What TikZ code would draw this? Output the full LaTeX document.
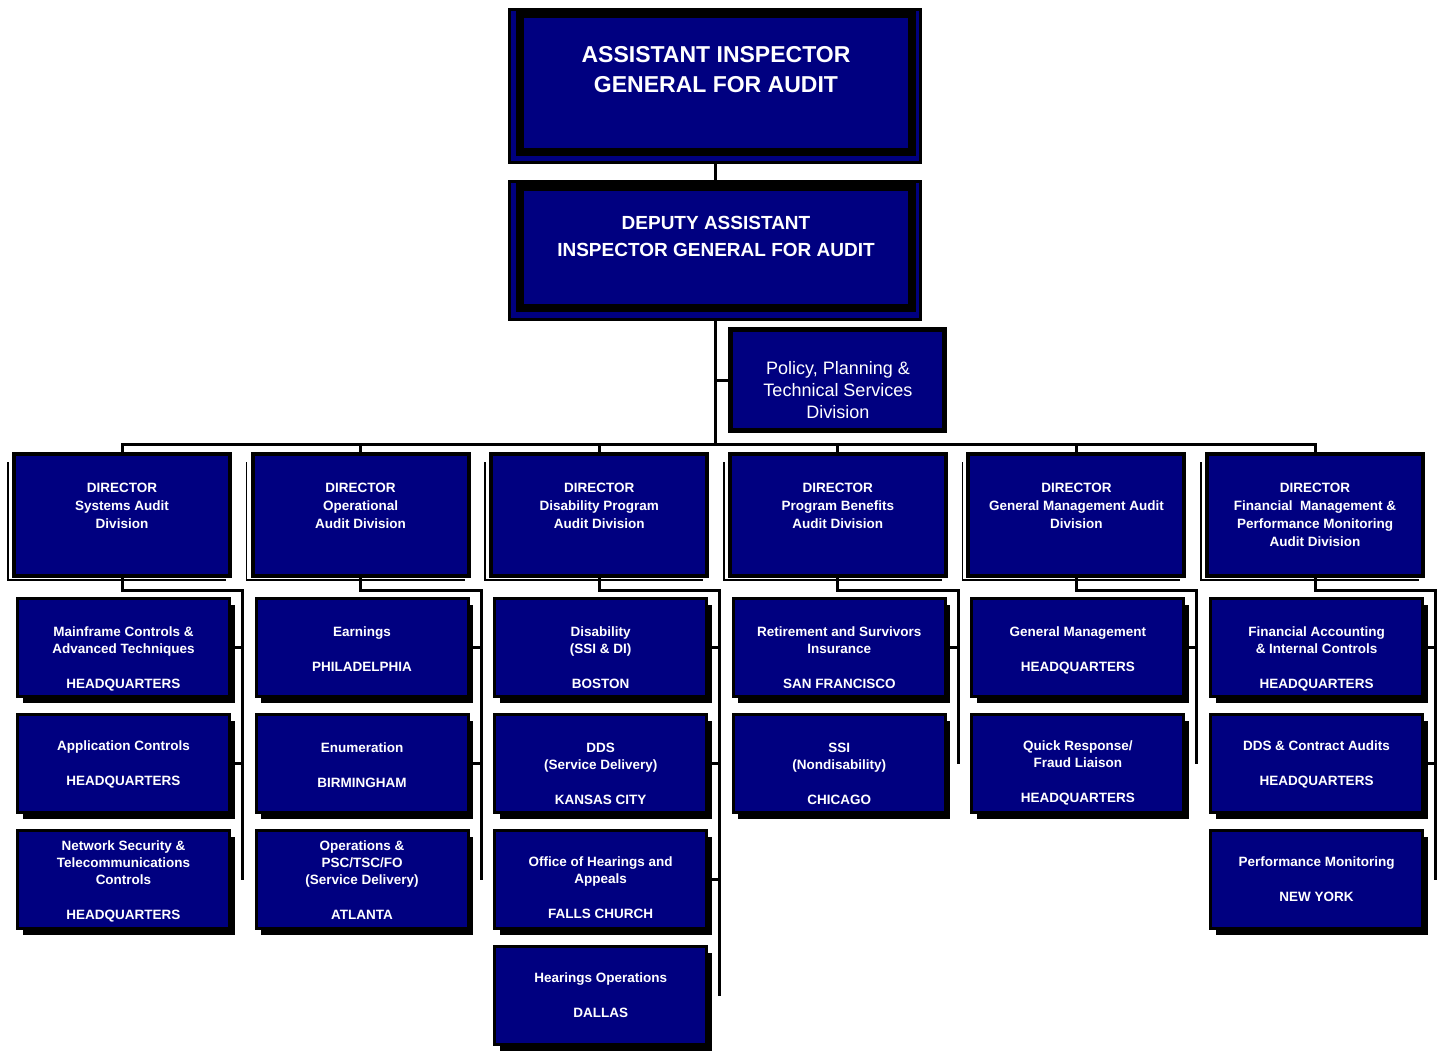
\documentclass[tikz,border=0pt]{standalone}
\usepackage{fontspec}
\setmainfont{Liberation Sans}
\usetikzlibrary{shadows}
\definecolor{navyfill}{RGB}{0,0,128}
\newcommand\DirBox[3]{%
  \draw[line width=1.5pt] ({#2-4},462) -- ({#2-4},580) -- ({#2+214},580);
  \node[dirbox] (#1) at ({#2+110},515) {};
  \node[dirtext] (#1t) at ({#2+110},479.2) {\strut #3};
}
\newcommand\KidBox[5]{%
  \node[childbox] (#1) at ({#2+111.5},{#3+50.5}) {};
  \node[childtext] (#1t) at ({#2+111.5},{#4-7}) {\strut #5};
}
\newcommand\TreeLine[3]{%
  \coordinate (#1v) at ({#2+230.5},590);
  \draw[conn] (#1.south) |- (#1v) -- (#1v |- #3.east);
}
\newcommand\Stub[2]{\draw[conn] (#2.east) -- (#1v |- #2.east);}
\begin{document}
\begin{tikzpicture}[x=1pt,y=-1pt,
  conn/.style={line width=3pt, draw=black},
  dirbox/.style={rectangle, draw=black, fill=navyfill, line width=4pt, minimum width=216pt, minimum height=122pt, inner sep=0pt},
  childbox/.style={rectangle, draw=black, fill=navyfill, line width=3pt, minimum width=212pt, minimum height=98pt, inner sep=0pt, drop shadow={shadow xshift=5pt, shadow yshift=-6pt, fill=black, opacity=1}},
  dirtext/.style={text=white, font=\fontsize{13.5}{18}\selectfont\bfseries, align=center, anchor=north, inner sep=0pt},
  childtext/.style={text=white, font=\fontsize{13.5}{17}\selectfont\bfseries, align=center, anchor=north, inner sep=0pt},
  bigframe/.style={rectangle, draw=black, fill=navyfill, inner sep=0pt},
]
\useasboundingbox (0,0) rectangle (1438,1050);
\fill[white] (0,0) rectangle (1438,1050);

% top boxes
\node[bigframe, line width=3pt, minimum width=411pt, minimum height=153pt] (A) at (715,86) {};
\node[bigframe, line width=8pt, minimum width=392pt, minimum height=138pt] (Ai) at (715.5,83) {};
\node[text=white, font=\fontsize{23}{30}\selectfont\bfseries, align=center, anchor=north, inner sep=0pt] (At) at (716,41.2) {\strut ASSISTANT INSPECTOR\\GENERAL FOR AUDIT};

\node[bigframe, line width=3pt, minimum width=411pt, minimum height=138pt] (B) at (715,250.5) {};
\node[bigframe, line width=8pt, minimum width=392pt, minimum height=121pt] (Bi) at (715.5,247.5) {};
\node[text=white, font=\fontsize{19}{27}\selectfont\bfseries, align=center, anchor=north, inner sep=0pt] (Bt) at (716,209.9) {\strut DEPUTY ASSISTANT\\INSPECTOR GENERAL FOR AUDIT};

\node[bigframe, line width=5pt, minimum width=214pt, minimum height=101pt] (P) at (837.5,380) {};
\node[text=white, font=\fontsize{18}{22}\selectfont, align=center, anchor=north, inner sep=0pt] (Pt) at (838,359) {\strut Policy, Planning \&\\Technical Services\\Division};

\coordinate (bus) at (715,444);

% directors
\DirBox{d1}{12}{DIRECTOR\\Systems Audit\\Division}
\DirBox{d2}{250.6}{DIRECTOR\\Operational\\Audit Division}
\DirBox{d3}{489.2}{DIRECTOR\\Disability Program\\Audit Division}
\DirBox{d4}{727.8}{DIRECTOR\\Program Benefits\\Audit Division}
\DirBox{d5}{966.4}{DIRECTOR\\General Management Audit\\Division}
\DirBox{d6}{1205}{DIRECTOR\\Financial~ Management \&\\Performance Monitoring\\Audit Division}

% connectors at top
\draw[conn] (A.south) -- (B.north);
\draw[conn] (B.south) -- (bus);
\draw[conn] (B.south |- P.west) -- (P.west);
\draw[conn] (d1.north) |- (bus) -| (d6.north);
\foreach \n in {d2,d3,d4,d5} \draw[conn] (\n.north) -- (\n.north |- bus);

% column 1
\KidBox{c11}{12}{597}{631}{Mainframe Controls \&\\Advanced Techniques\\[18pt]HEADQUARTERS}
\KidBox{c12}{12}{713}{745}{Application Controls\\[18pt]HEADQUARTERS}
\KidBox{c13}{12}{829}{845}{Network Security \&\\Telecommunications\\Controls\\[18pt]HEADQUARTERS}
% column 2
\KidBox{c21}{250.6}{597}{631}{Earnings\\[18pt]PHILADELPHIA}
\KidBox{c22}{250.6}{713}{747}{Enumeration\\[18pt]BIRMINGHAM}
\KidBox{c23}{250.6}{829}{845}{Operations \&\\PSC/TSC/FO\\(Service Delivery)\\[18pt]ATLANTA}
% column 3
\KidBox{c31}{489.2}{597}{631}{Disability\\(SSI \& DI)\\[18pt]BOSTON}
\KidBox{c32}{489.2}{713}{747}{DDS\\(Service Delivery)\\[18pt]KANSAS CITY}
\KidBox{c33}{489.2}{829}{861}{Office of Hearings and\\Appeals\\[18pt]FALLS CHURCH}
\KidBox{c34}{489.2}{945}{977}{Hearings Operations\\[18pt]DALLAS}
% column 4
\KidBox{c41}{727.8}{597}{631}{Retirement and Survivors\\Insurance\\[18pt]SAN FRANCISCO}
\KidBox{c42}{727.8}{713}{747}{SSI\\(Nondisability)\\[18pt]CHICAGO}
% column 5
\KidBox{c51}{966.4}{597}{631}{General Management\\[18pt]HEADQUARTERS}
\KidBox{c52}{966.4}{713}{745}{Quick Response/\\Fraud Liaison\\[18pt]HEADQUARTERS}
% column 6
\KidBox{c61}{1205}{597}{631}{Financial Accounting\\\& Internal Controls\\[18pt]HEADQUARTERS}
\KidBox{c62}{1205}{713}{745}{DDS \& Contract Audits\\[18pt]HEADQUARTERS}
\KidBox{c63}{1205}{829}{861}{Performance Monitoring\\[18pt]NEW YORK}

% column connectors
\TreeLine{d1}{12}{c13}
\Stub{d1}{c11}\Stub{d1}{c12}
\TreeLine{d2}{250.6}{c23}
\Stub{d2}{c21}\Stub{d2}{c22}
\TreeLine{d3}{489.2}{c34}
\Stub{d3}{c31}\Stub{d3}{c32}\Stub{d3}{c33}
\TreeLine{d4}{727.8}{c42}
\Stub{d4}{c41}
\TreeLine{d5}{966.4}{c52}
\Stub{d5}{c51}
\TreeLine{d6}{1205}{c63}
\Stub{d6}{c61}\Stub{d6}{c62}
\end{tikzpicture}
\end{document}
